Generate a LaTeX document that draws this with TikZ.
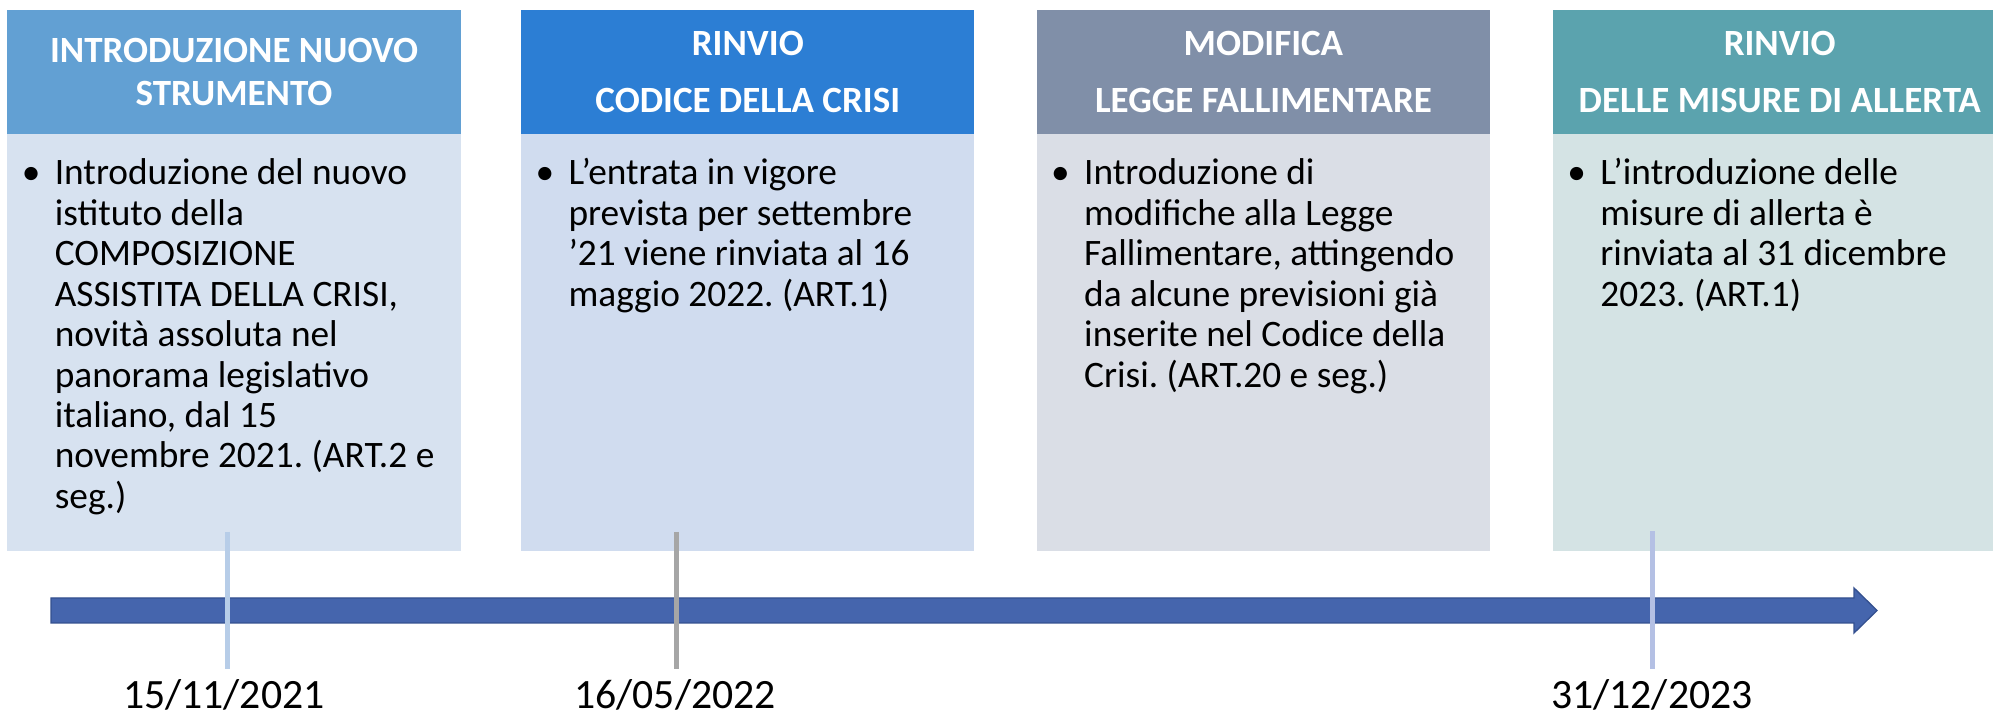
\documentclass[tikz,border=0pt]{standalone}
\usepackage{fontspec}
\setmainfont{Carlito}
\usepackage{xcolor}
\usepackage{tikz}
\usetikzlibrary{positioning}
\frenchspacing

\definecolor{testaA}{HTML}{62A0D3}
\definecolor{testaB}{HTML}{2C7ED4}
\definecolor{testaC}{HTML}{808FA8}
\definecolor{testaD}{HTML}{5BA3AE}
\definecolor{corpoA}{HTML}{D7E2F0}
\definecolor{corpoB}{HTML}{D0DCEF}
\definecolor{corpoC}{HTML}{DADEE6}
\definecolor{corpoD}{HTML}{D4E3E4}
\definecolor{frecciaFill}{HTML}{4565AD}
\definecolor{frecciaBordo}{HTML}{34508F}
\definecolor{taccaA}{HTML}{B7CDE8}
\definecolor{taccaB}{HTML}{A6A6A6}
\definecolor{taccaC}{HTML}{B4C0E4}

\newcommand{\punto}[1]{\makebox[0.42cm]{\textbullet}\hspace{0.17cm}\begin{tabular}[t]{@{}l@{}}#1\end{tabular}}

\tikzset{
  testa/.style={anchor=north west, minimum width=7.25cm, minimum height=1.984cm,
    inner sep=0pt, outer sep=0pt, text=white, align=center,
    font=\fontsize{16.85}{19.5}\selectfont\bfseries},
  testalarga/.style={testa, font=\fontsize{16.85}{25.9}\selectfont\bfseries},
  corpo/.style={minimum width=7.25cm, minimum height=6.672cm, inner sep=0pt, outer sep=0pt},
  testo/.style={anchor=base west, inner sep=0pt, font=\fontsize{17}{18.4}\selectfont},
  freccia/.style={fill=frecciaFill, draw=frecciaBordo, line width=0.6pt},
  tacca/.style={line width=0.08cm},
  data/.style={anchor=base, inner sep=0pt, font=\fontsize{19}{22}\selectfont},
}

\begin{document}
\begin{tikzpicture}
    \clip (0,0) rectangle (31.888,11.488);

    % boxes
    \node[testa, fill=testaA] (testa1) at (0.12,11.33) {INTRODUZIONE NUOVO\\STRUMENTO};
    \node[corpo, fill=corpoA, below=0pt of testa1] (corpo1) {};
    \node[testalarga, fill=testaB] (testa2) at (8.34,11.33) {RINVIO\\CODICE DELLA CRISI};
    \node[corpo, fill=corpoB, below=0pt of testa2] (corpo2) {};
    \node[testalarga, fill=testaC] (testa3) at (16.59,11.33) {MODIFICA\\LEGGE FALLIMENTARE};
    \node[corpo, fill=corpoC, below=0pt of testa3] (corpo3) {};
    \node[testalarga, fill=testaD] (testa4) at (24.85,11.33) {RINVIO\\DELLE MISURE DI ALLERTA};
    \node[corpo, fill=corpoD, below=0pt of testa4] (corpo4) {};

    % text
    \node[testo] (testo1) at (0.28,8.528) {\punto{Introduzione del nuovo\\istituto della\\COMPOSIZIONE\\ASSISTITA DELLA CRISI,\\novità assoluta nel\\panorama legislativo\\italiano, dal 15\\novembre 2021. (ART.2 e\\seg.)}};
    \node[testo] (testo2) at (8.50,8.528) {\punto{L’entrata in vigore\\prevista per settembre\\’21 viene rinviata al 16\\maggio 2022. (ART.1)}};
    \node[testo] (testo3) at (16.75,8.528) {\punto{Introduzione di\\modifiche alla Legge\\Fallimentare, attingendo\\da alcune previsioni già\\inserite nel Codice della\\Crisi. (ART.20 e seg.)}};
    \node[testo] (testo4) at (25.01,8.528) {\punto{L’introduzione delle\\misure di allerta è\\rinviata al 31 dicembre\\2023. (ART.1)}};

    % arrow
    \draw[freccia] (0.816,1.52) -- (29.664,1.52) -- (29.664,1.36) -- (30.032,1.72)
      -- (29.664,2.08) -- (29.664,1.92) -- (0.816,1.92) -- cycle;

    % |
    \coordinate (su1) at (3.632,2.976);
    \coordinate (giu1) at (3.632,0.784);
    \coordinate (su2) at (10.824,2.976);
    \coordinate (giu2) at (10.824,0.784);
    \coordinate (su3) at (26.432,2.99);
    \coordinate (giu3) at (26.432,0.784);
    \draw[tacca, taccaA] (su1) -- (giu1);
    \draw[tacca, taccaB] (su2) -- (giu2);
    \draw[tacca, taccaC] (su3) -- (giu3);

    % dates
    \node[data] (data1) at (3.58,0.15) {15/11/2021};
    \node[data] (data2) at (10.80,0.15) {16/05/2022};
    \node[data] (data3) at (26.43,0.15) {31/12/2023};
\end{tikzpicture}
\end{document}
